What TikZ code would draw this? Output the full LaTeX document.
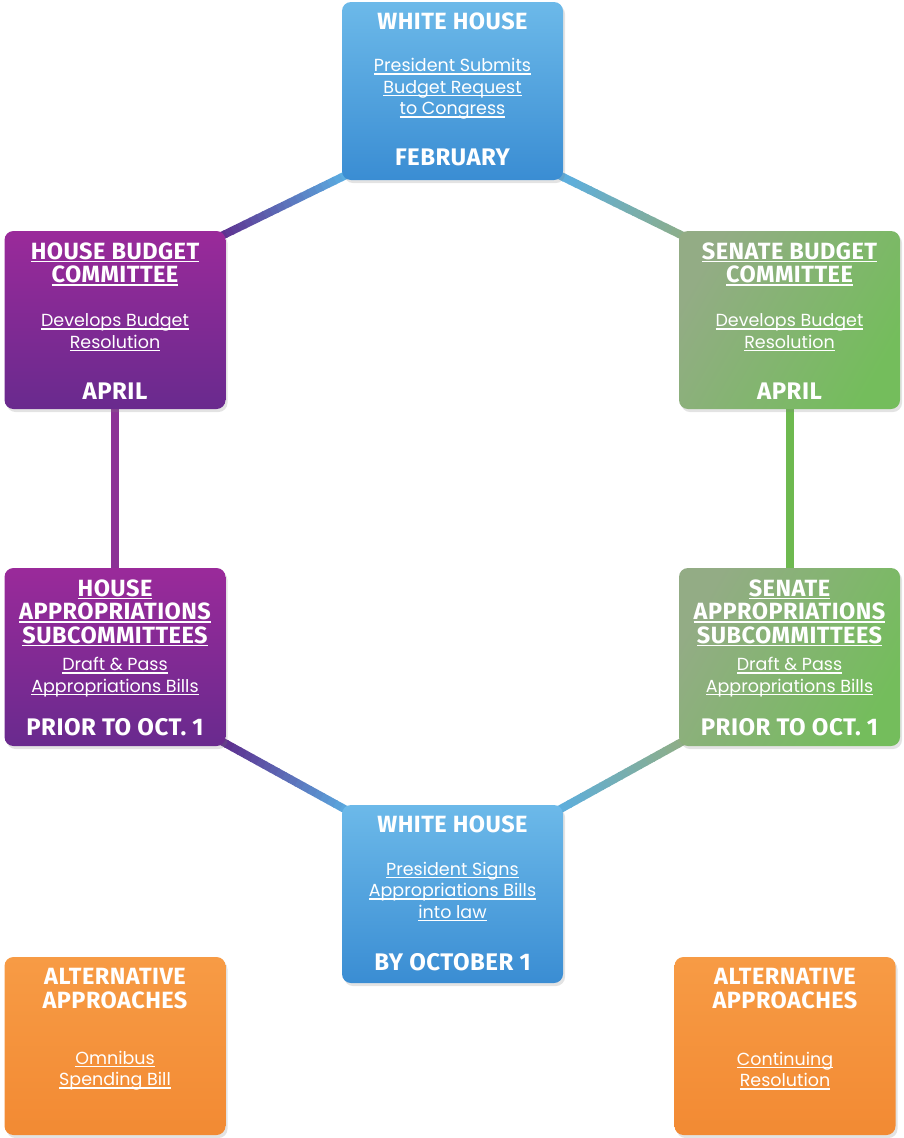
\documentclass[tikz,border=0pt]{standalone}
\usepackage{fontspec}
\setmainfont{Fira Sans}
\newfontfamily\bodyfont{Poppins}
\usetikzlibrary{calc,shadows,backgrounds}

% underline with a rule of fixed depth
\newcommand{\uln}[1]{\leavevmode\setbox0\hbox{#1}\rlap{\rule[-3pt]{\wd0}{1.5pt}}\box0}

\definecolor{whtop}{HTML}{6CB9E9}
\definecolor{whbot}{HTML}{3A8DD3}
\definecolor{hstop}{HTML}{9A2A9A}
\definecolor{hsbot}{HTML}{692A8E}
\definecolor{sngray}{HTML}{93AC85}
\definecolor{sngreen}{HTML}{74BD5C}
\definecolor{altop}{HTML}{F79B45}
\definecolor{albot}{HTML}{F28A33}
\definecolor{lnblue}{HTML}{5AAEE2}
\definecolor{lnpurple}{HTML}{5E2C8C}
\definecolor{lnvpurple}{HTML}{8C3296}
\definecolor{lngreen}{HTML}{6EB950}
\definecolor{lngray}{HTML}{8FAE86}

% gradient connector from node to node
\newcommand{\gradline}[4]{%
  \foreach \i in {0,...,19}{%
    \pgfmathsetmacro{\p}{100-5*\i}
    \draw[conn,color=#3!\p!#4] ($(#1)!{\i/20}!(#2)$) -- ($(#1)!{(\i+1.15)/20}!(#2)$);
  }}

\begin{document}
\begin{tikzpicture}[x=1pt,y=1pt,yscale=-1,
  card/.style={rounded corners=9pt, minimum width=221pt, minimum height=178pt, inner sep=0pt,
    drop shadow={opacity=0.22,shadow xshift=2pt,shadow yshift=-3pt}},
  whcard/.style={card, top color=whtop, bottom color=whbot},
  hscard/.style={card, top color=hstop, bottom color=hsbot},
  sncard/.style={card, left color=sngray, right color=sngreen, shading angle=60},
  altcard/.style={card, top color=altop, bottom color=albot},
  head/.style={text=white, align=center, inner sep=0pt,
    font=\fontsize{23.5}{23.5}\selectfont\bfseries\addfontfeature{LetterSpace=2}},
  body/.style={text=white, align=center, inner sep=0pt, font=\fontsize{17.5}{21.5}\selectfont\bodyfont},
  date/.style={text=white, inner sep=0pt,
    font=\fontsize{24}{24}\selectfont\bfseries\addfontfeature{LetterSpace=2}},
  conn/.style={line width=8pt}]
\useasboundingbox (0,0) rectangle (904,1138);

% boxes
\node[whcard] (wh1) at (452.5,91) {};
\node[hscard] (hbc) at (115,320) {};
\node[sncard] (sbc) at (789.5,320) {};
\node[hscard] (hac) at (115,657) {};
\node[sncard] (sac) at (789.5,657) {};
\node[whcard] (wh2) at (452.5,894) {};
\node[altcard] (alt1) at (115,1046) {};
\node[altcard] (alt2) at (785,1046) {};

% White House, top
\node[head] (wh1h) at ($(wh1.north)+(0,20)$) {WHITE HOUSE};
\node[body] (wh1b) at ($(wh1.north)+(0,87)$) {\uln{President Submits}\\\uln{Budget Request}\\\uln{to Congress}};
\node[date] (wh1d) at ($(wh1.north)+(0,156)$) {FEBRUARY};

% House Budget Committee
\node[head] (hbch) at ($(hbc.north)+(0,33.5)$) {\uln{HOUSE BUDGET}\\\uln{COMMITTEE}};
\node[body] (hbcb) at ($(hbc.north)+(0,101.5)$) {\uln{Develops Budget}\\\uln{Resolution}};
\node[date] (hbcd) at ($(hbc.north)+(0,160)$) {APRIL};

% Senate Budget Committee
\node[head] (sbch) at ($(sbc.north)+(0,33.5)$) {\uln{SENATE BUDGET}\\\uln{COMMITTEE}};
\node[body] (sbcb) at ($(sbc.north)+(0,101.5)$) {\uln{Develops Budget}\\\uln{Resolution}};
\node[date] (sbcd) at ($(sbc.north)+(0,160)$) {APRIL};

% House Appropriations
\node[head] (hach) at ($(hac.north)+(0,45)$) {\uln{HOUSE}\\\uln{APPROPRIATIONS}\\\uln{SUBCOMMITTEES}};
\node[body] (hacb) at ($(hac.north)+(0,109.5)$) {\uln{Draft \& Pass}\\\uln{Appropriations Bills}};
\node[date] (hacd) at ($(hac.north)+(0,159)$) {PRIOR TO OCT. 1};

% Senate Appropriations
\node[head] (sach) at ($(sac.north)+(0,45)$) {\uln{SENATE}\\\uln{APPROPRIATIONS}\\\uln{SUBCOMMITTEES}};
\node[body] (sacb) at ($(sac.north)+(0,109.5)$) {\uln{Draft \& Pass}\\\uln{Appropriations Bills}};
\node[date] (sacd) at ($(sac.north)+(0,159)$) {PRIOR TO OCT. 1};

% White House, bottom
\node[head] (wh2h) at ($(wh2.north)+(0,20)$) {WHITE HOUSE};
\node[body] (wh2b) at ($(wh2.north)+(0,87)$) {\uln{President Signs}\\\uln{Appropriations Bills}\\\uln{into law}};
\node[date] (wh2d) at ($(wh2.north)+(0,157)$) {BY OCTOBER 1};

% Alternative approaches
\node[head] (alt1h) at ($(alt1.north)+(0,31.5)$) {ALTERNATIVE\\APPROACHES};
\node[body] (alt1b) at ($(alt1.north)+(0,114)$) {\uln{Omnibus}\\\uln{Spending Bill}};
\node[head] (alt2h) at ($(alt2.north)+(0,31.5)$) {ALTERNATIVE\\APPROACHES};
\node[body] (alt2b) at ($(alt2.north)+(0,114)$) {\uln{Continuing}\\\uln{Resolution}};

% connectors
\begin{scope}[on background layer]
\gradline{$(wh1.south west)+(6,-6)$}{$(hbc.north east)+(-6,6)$}{lnblue}{lnpurple}
\gradline{$(wh1.south east)+(-6,-6)$}{$(sbc.north west)+(6,6)$}{lnblue}{lngray}
\draw[conn,lnvpurple] (hbc.south) -- (hac.north);
\draw[conn,lngreen] (sbc.south) -- (sac.north);
\gradline{$(hac.south east)+(-6,-6)$}{$(wh2.north west)+(6,6)$}{lnpurple}{lnblue}
\gradline{$(sac.south west)+(6,-6)$}{$(wh2.north east)+(-6,6)$}{lngray}{lnblue}
\end{scope}
\end{tikzpicture}
\end{document}
